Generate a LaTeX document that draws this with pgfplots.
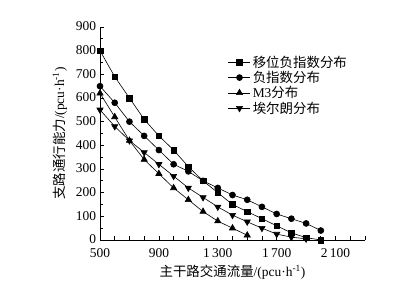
\documentclass[border=0pt]{standalone}
\usepackage{fontspec}
\setmainfont{Liberation Serif}
\newfontfamily\cjk{Noto Sans CJK SC}
\usepackage{pgfplots}
\pgfplotsset{compat=1.18}
\begin{document}
\begin{tikzpicture}
\useasboundingbox (0,0) rectangle (411bp,288bp);
\begin{axis}[
  at={(100bp,48bp)}, anchor=south west,
  scale only axis, width=265bp, height=213bp,
  xmin=500, xmax=2300, ymin=0, ymax=900,
  axis x line*=bottom, axis y line*=left,
  axis line style={line width=0.8bp},
  xtick={500,600,...,2300},
  xticklabels={500,,,,900,,,,1\,300,,,,1\,700,,,,2\,100,,},
  ytick={0,100,...,900},
  minor ytick={50,150,...,850},
  tick align=inside,
  major tick length=4bp, minor tick length=2.5bp,
  tick style={line width=0.7bp, black},
  /pgf/number format/assume math mode=true,
  tick label style={font=\fontsize{13.5}{15}\selectfont},
  yticklabel style={xshift=-0.5bp, yshift=0.5bp},
  xticklabel style={yshift=-5bp},
  xlabel={{\cjk 主干路交通流量}/(pcu·h\textsuperscript{-1})},
  ylabel={{\cjk 支路通行能力}/(pcu·h\textsuperscript{-1})},
  label style={font=\fontsize{13.5}{15}\selectfont},
  xlabel style={yshift=-0.5bp},
  ylabel style={yshift=2bp},
  legend style={draw=none, fill=none, at={(0.483,0.875)}, anchor=north west,
    font=\fontsize{13.5}{15}\selectfont, row sep=-1.5bp, inner sep=0pt,
    /tikz/every even column/.append style={column sep=1pt}},
  legend cell align=left,
  legend image code/.code={\draw[mark repeat=2,mark phase=2] plot coordinates {(0bp,0bp)(11bp,0bp)(22bp,0bp)};},
]
\addplot[black, line width=0.6bp, mark=square*, mark size=2.8bp, mark options={solid, fill=black}] coordinates {
(500,800)(600,690)(700,600)(800,510)(900,440)(1000,380)(1100,310)(1200,250)
(1300,200)(1400,150)(1500,120)(1600,90)(1700,60)(1800,30)(1900,10)(2000,0)};
\addlegendentry{\cjk 移位负指数分布}
\addplot[black, line width=0.6bp, mark=*, mark size=3bp, mark options={solid, fill=black}] coordinates {
(500,650)(600,580)(700,500)(800,440)(900,380)(1000,320)(1100,290)(1200,250)
(1300,220)(1400,190)(1500,170)(1600,140)(1700,110)(1800,90)(1900,70)(2000,40)};
\addlegendentry{\cjk 负指数分布}
\addplot[black, line width=0.6bp, mark=triangle*, mark size=3.6bp, mark options={solid, fill=black}] coordinates {
(500,620)(600,520)(700,420)(800,340)(900,280)(1000,220)(1100,170)(1200,120)
(1300,80)(1400,50)(1500,20)};
\addlegendentry{M3{\cjk 分布}}
\addplot[black, line width=0.6bp, mark=triangle*, mark size=3.6bp, mark options={solid, fill=black, rotate=180}] coordinates {
(500,550)(600,480)(700,420)(800,370)(900,320)(1000,270)(1100,220)(1200,180)
(1300,140)(1400,105)(1500,77)(1600,50)(1700,25)(1800,12)(1900,5)};
\addlegendentry{\cjk 埃尔朗分布}
\end{axis}
\end{tikzpicture}
\end{document}
